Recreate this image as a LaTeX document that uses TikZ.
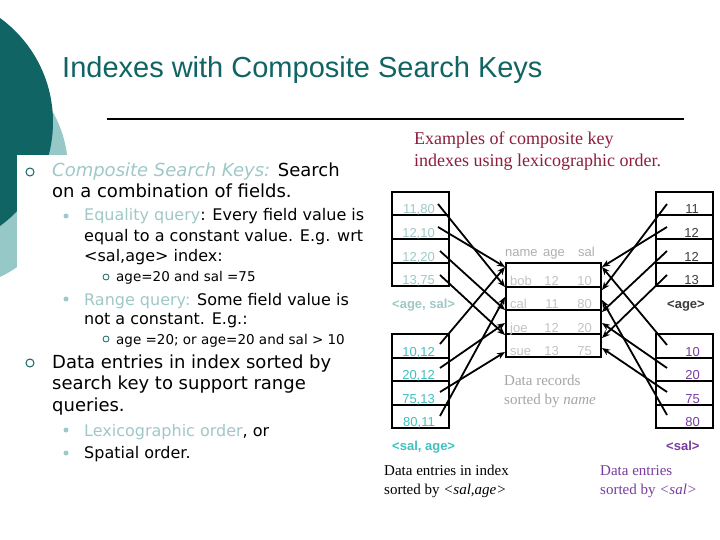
\documentclass[tikz,border=0pt]{standalone}
\usepackage{fontspec}
\setmainfont{Liberation Serif}
\newfontfamily\lsans{Liberation Sans}
\newfontfamily\dvs{DejaVu Sans}
\usetikzlibrary{arrows.meta}
\definecolor{darkteal}{RGB}{16,100,100}
\definecolor{lightteal}{RGB}{150,200,200}
\definecolor{softteal}{RGB}{160,200,200}
\definecolor{cyanish}{RGB}{64,192,192}
\definecolor{purp}{RGB}{120,60,160}
\definecolor{maroonx}{RGB}{140,30,60}
\definecolor{recgray}{RGB}{195,195,195}
\definecolor{hdrgray}{RGB}{175,175,175}
\definecolor{capgray}{RGB}{165,165,165}
\definecolor{dgray}{RGB}{60,60,60}
\begin{document}
\begin{tikzpicture}[x=1pt,y=-1pt,
  cell/.style={draw=black,line width=2pt,minimum width=57pt,minimum height=23.5pt,inner sep=0pt,outer sep=0pt},
  rec/.style={draw=black,line width=2pt,minimum width=95pt,minimum height=23.5pt,inner sep=0pt,outer sep=0pt},
  lab/.style={font=\lsans\fontsize{13}{13}\selectfont,inner sep=0pt,anchor=base east},
  labw/.style={font=\lsans\fontsize{13}{13}\selectfont,inner sep=0pt,anchor=base west},
  idx/.style={font=\lsans\bfseries\fontsize{13}{13}\selectfont,inner sep=0pt,anchor=base west},
  capt/.style={font=\fontsize{15}{15}\selectfont,inner sep=0pt,anchor=base west},
  tA/.style={font=\dvs\fontsize{18}{18}\selectfont,inner sep=0pt,anchor=base west},
  tB/.style={font=\dvs\fontsize{16}{16}\selectfont,inner sep=0pt,anchor=base west},
  tC/.style={font=\dvs\fontsize{13.5}{13.5}\selectfont,inner sep=0pt,anchor=base west},
  bulA/.style={circle,draw=darkteal,line width=1pt,minimum size=8pt,inner sep=0pt},
  bulB/.style={circle,fill=softteal,minimum size=5pt,inner sep=0pt},
  bulC/.style={circle,draw=darkteal,line width=0.8pt,minimum size=6pt,inner sep=0pt},
  arr/.style={line width=1.8pt,-{Stealth[length=8pt,width=6.5pt]}}
]
\useasboundingbox (0,0) rectangle (720,540);
\clip (0,0) rectangle (720,540);
\fill[white] (0,0) rectangle (720,540);
% background circles
\fill[lightteal] (-50,170) circle[radius=118];
\fill[darkteal] (-75.5,122) circle[radius=128.5];
\fill[white] (17,155) rectangle (720,540);

% title
\node[font=\lsans\fontsize{29}{29}\selectfont,text=darkteal,inner sep=0pt,anchor=base west] (title) at (62,78) {Indexes with Composite Search Keys};
\draw[line width=2pt] (107,119) -- (684,119);

% left text
\node[bulA] (b1) at (30,172) {};
\node[tA] (l1) at (52,177) {{\color{softteal}\itshape Composite Search Keys:} Search};
\node[tA] (l2) at (52,198) {on a combination of fields.};
\node[bulB] (b2) at (66,216) {};
\node[tB] (l3) at (84,221) {{\color{softteal}Equality query}: Every field value is};
\node[tB] (l4) at (84,241) {equal to a constant value. E.g. wrt};
\node[tB] (l5) at (84,261) {<sal,age> index:};
\node[bulC] (b3) at (106,277) {};
\node[tC] (l6) at (116,281) {age=20 and sal =75};
\node[bulB] (b4) at (66,299) {};
\node[tB] (l7) at (84,305) {{\color{softteal}Range query:} Some field value is};
\node[tB] (l8) at (84,324) {not a constant. E.g.:};
\node[bulC] (b5) at (106,339) {};
\node[tC] (l9) at (116,344) {age =20; or age=20 and sal > 10};
\node[bulA] (b6) at (30,363) {};
\node[tA] (l10) at (52,368) {Data entries in index sorted by};
\node[tA] (l11) at (52,389.5) {search key to support range};
\node[tA] (l12) at (52,411) {queries.};
\node[bulB] (b7) at (66,430) {};
\node[tB] (l13) at (84,436) {{\color{softteal}Lexicographic order}, or};
\node[bulB] (b8) at (66,453) {};
\node[tB] (l14) at (84,458) {Spatial order.};

% examples caption
\node[font=\fontsize{18}{18}\selectfont,text=maroonx,inner sep=0pt,anchor=base west] (ex1) at (414,145) {Examples of composite key};
\node[font=\fontsize{18}{18}\selectfont,text=maroonx,inner sep=0pt,anchor=base west] (ex2) at (414,167) {indexes using lexicographic order.};

% index boxes
\foreach \i/\y in {1/203.75,2/227.25,3/250.75,4/274.25}{
  \node[cell] (tl\i) at (420.5,\y) {};
  \node[cell] (tr\i) at (684.5,\y) {};
}
\foreach \i/\y in {1/345.75,2/369.25,3/392.75,4/416.25}{
  \node[cell] (bl\i) at (420.5,\y) {};
  \node[cell] (br\i) at (684.5,\y) {};
}
\foreach \i/\y in {1/274.75,2/298.25,3/321.75,4/345.25}{
  \node[rec] (r\i) at (553.5,\y) {};
}

% labels top-left
\node[lab,text=softteal] (tlt1) at (435,214) {11,80};
\node[lab,text=softteal] (tlt2) at (435,237.5) {12,10};
\node[lab,text=softteal] (tlt3) at (435,261) {12,20};
\node[lab,text=softteal] (tlt4) at (435,284.5) {13,75};
% labels bottom-left
\node[lab,text=cyanish] (blt1) at (435,356) {10,12};
\node[lab,text=cyanish] (blt2) at (435,379.5) {20,12};
\node[lab,text=cyanish] (blt3) at (435,403) {75,13};
\node[lab,text=cyanish] (blt4) at (435,426.5) {80,11};
% labels top-right
\node[lab,text=dgray] (trt1) at (699,214) {11};
\node[lab,text=dgray] (trt2) at (699,237.5) {12};
\node[lab,text=dgray] (trt3) at (699,261) {12};
\node[lab,text=dgray] (trt4) at (699,284.5) {13};
% labels bottom-right
\node[lab,text=purp] (brt1) at (700,356) {10};
\node[lab,text=purp] (brt2) at (700,379.5) {20};
\node[lab,text=purp] (brt3) at (700,403) {75};
\node[lab,text=purp] (brt4) at (700,426.5) {80};

% records
\node[labw,text=hdrgray] (hn) at (505,256) {name};
\node[labw,text=hdrgray] (ha) at (543,256) {age};
\node[labw,text=hdrgray] (hs) at (578,256) {sal};
\foreach \i/\y/\n/\a/\s in {1/285/bob/12/10,2/308.5/cal/11/80,3/332/joe/12/20,4/355.5/sue/13/75}{
  \node[labw,text=recgray] (rn\i) at (510,\y) {\n};
  \node[lab,text=recgray] (ra\i) at (559,\y) {\a};
  \node[lab,text=recgray] (rs\i) at (592,\y) {\s};
}

% index names
\node[idx,text=softteal] (n1) at (392,308) {<age, sal>};
\node[idx,text=dgray] (n2) at (667,308) {<age>};
\node[idx,text=cyanish] (n3) at (392,450) {<sal, age>};
\node[idx,text=purp] (n4) at (666,450) {<sal>};

% captions
\node[capt,text=capgray] (c1) at (504,385) {Data records};
\node[capt,text=capgray] (c2) at (504,404) {sorted by \textit{name}};
\node[capt,text=black] (c3) at (384,475) {Data entries in index};
\node[capt,text=black] (c4) at (384,494) {sorted by \textit{<sal,age>}};
\node[capt,text=purp] (c5) at (600,475) {Data entries};
\node[capt,text=purp] (c6) at (600,494) {sorted by \textit{<sal>}};

% arrow start points
\coordinate (stl1) at (438,204); \coordinate (stl2) at (438,227);
\coordinate (stl3) at (440,251); \coordinate (stl4) at (440,275);
\coordinate (sbl1) at (440,344); \coordinate (sbl2) at (440,368);
\coordinate (sbl3) at (440,392); \coordinate (sbl4) at (440,416);
\coordinate (str1) at (667,204); \coordinate (str2) at (667,227);
\coordinate (str3) at (667,251); \coordinate (str4) at (667,275);
\coordinate (sbr1) at (667,345); \coordinate (sbr2) at (667,368);
\coordinate (sbr3) at (667,392); \coordinate (sbr4) at (667,415);
% arrow targets
\coordinate (tbobL) at (505,267); \coordinate (tcalL1) at (505,287);
\coordinate (tcalL2) at (505,297); \coordinate (tjoeL1) at (505,310);
\coordinate (tjoeL2) at (505,323); \coordinate (tsueL1) at (505,335);
\coordinate (tsueL2) at (505,352);
\coordinate (tbobR) at (602,267); \coordinate (tcalR1) at (602,290);
\coordinate (tcalR2) at (602,300); \coordinate (tjoeR1) at (602,312);
\coordinate (tjoeR2) at (602,323); \coordinate (tsueR1) at (602,338);
\coordinate (tsueR2) at (602,348);

\draw[arr] (stl1) -- (tcalL1);
\draw[arr] (stl2) -- (tbobL);
\draw[arr] (stl3) -- (tjoeL1);
\draw[arr] (stl4) -- (tsueL1);
\draw[arr] (sbl1) -- (tbobL);
\draw[arr] (sbl2) -- (tjoeL2);
\draw[arr] (sbl3) -- (tsueL2);
\draw[arr] (sbl4) -- (tcalL2);
\draw[arr] (str1) -- (tcalR1);
\draw[arr] (str2) -- (tbobR);
\draw[arr] (str3) -- (tjoeR1);
\draw[arr] (str4) -- (tsueR1);
\draw[arr] (sbr1) -- (tbobR);
\draw[arr] (sbr2) -- (tjoeR2);
\draw[arr] (sbr3) -- (tsueR2);
\draw[arr] (sbr4) -- (tcalR2);
\end{tikzpicture}
\end{document}
